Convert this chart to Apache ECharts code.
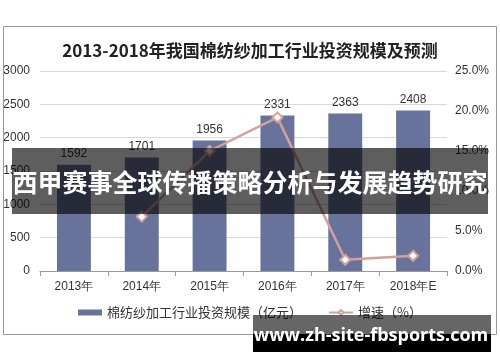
<!DOCTYPE html>
<html>
<head>
<meta charset="utf-8">
<script src="https://cdn.jsdelivr.net/npm/echarts@6/dist/echarts.min.js"></script>
<style>
html,body{margin:0;padding:0;background:#fff;}
#c{width:500px;height:362px;}
</style>
</head>
<body>
<div id="c"></div>
<script>
var categories = ['2013年','2014年','2015年','2016年','2017年','2018年E'];
var investment = [1592, 1701, 1956, 2331, 2363, 2408];
var growth = [null, 6.8, 15.0, 19.2, 1.4, 1.9];
var leftTicks = {min: 0, max: 3000, interval: 500};
var rightTicks = {min: 0, max: 25, interval: 5};
var titleText = '2013-2018年我国棉纺纱加工行业投资规模及预测';
var barName = '棉纺纱加工行业投资规模（亿元）';
var lineName = '增速（%）';
var bannerText = '西甲赛事全球传播策略分析与发展趋势研究';
var watermarkText = 'www.zh-site-fbsports.com';

var chart = echarts.init(document.getElementById('c'), null, {renderer: 'canvas'});
var fontCJK = '"Noto Sans CJK SC", "Liberation Sans", sans-serif';
chart.setOption({
  animation: false,
  backgroundColor: '#fff',
  title: {
    text: titleText,
    left: 'center',
    top: 37,
    textStyle: {fontFamily: fontCJK, fontSize: 17, fontWeight: 'bold', color: '#222'}
  },
  grid: {left: 40, right: 53, top: 71, bottom: 91},
  legend: {
    bottom: 38,
    left: 'center',
    itemGap: 26,
    itemWidth: 24,
    itemHeight: 6,
    textStyle: {fontFamily: fontCJK, fontSize: 13, color: '#333'},
    data: [
      {name: barName, icon: 'rect'},
      {name: lineName}
    ]
  },
  xAxis: {
    type: 'category',
    data: categories,
    axisLine: {lineStyle: {color: '#999'}},
    axisTick: {show: true, lineStyle: {color: '#999'}},
    axisLabel: {color: '#333', fontFamily: 'Liberation Sans, Arial, sans-serif', fontSize: 12, margin: 10}
  },
  yAxis: [
    {
      type: 'value',
      min: leftTicks.min, max: leftTicks.max, interval: leftTicks.interval,
      axisLine: {show: false},
      axisTick: {show: false},
      splitLine: {lineStyle: {color: '#d9d9d9'}},
      axisLabel: {color: '#333', fontFamily: 'Liberation Sans, Arial, sans-serif', fontSize: 12, margin: 10,
        formatter: function (v) { return String(v); }}
    },
    {
      type: 'value',
      min: rightTicks.min, max: rightTicks.max, interval: rightTicks.interval,
      axisLine: {show: false},
      axisTick: {show: false},
      splitLine: {show: false},
      axisLabel: {color: '#333', fontFamily: 'Liberation Sans, Arial, sans-serif', fontSize: 12, margin: 8,
        formatter: function (v) { return v.toFixed(1) + '%'; }}
    }
  ],
  series: [
    {
      name: barName,
      type: 'bar',
      data: investment,
      barWidth: '50%',
      itemStyle: {color: '#67739b'},
      label: {show: true, position: 'top', color: '#333', fontFamily: 'Liberation Sans, Arial, sans-serif', fontSize: 12, distance: 5}
    },
    {
      name: lineName,
      type: 'line',
      yAxisIndex: 1,
      data: growth,
      symbol: 'diamond',
      symbolSize: 10,
      lineStyle: {color: '#d4a09c', width: 2.5},
      itemStyle: {color: '#fff', borderColor: '#d4a09c', borderWidth: 2}
    }
  ],
  graphic: [
    {type: 'rect', shape: {x: 3.5, y: 26.5, width: 493, height: 308}, style: {fill: 'none', stroke: '#999', lineWidth: 1}, z: 0, silent: true},
    {type: 'rect', shape: {x: 12, y: 148, width: 476, height: 66}, style: {fill: 'rgba(0,0,0,0.63)'}, z: 100, silent: true},
    {type: 'text', x: 250, y: 182, style: {text: bannerText, fill: '#fff', font: 'bold 25px "Noto Sans CJK SC", sans-serif', textAlign: 'center', textVerticalAlign: 'middle'}, z: 101, silent: true},
    {type: 'rect', shape: {x: 253, y: 315, width: 238, height: 19}, style: {fill: 'rgba(0,0,0,0.6)'}, z: 100, silent: true},
    {type: 'rect', shape: {x: 253, y: 334, width: 238, height: 18}, style: {fill: '#000'}, z: 100, silent: true},
    {type: 'text', x: 371, y: 336, style: {text: watermarkText, fill: '#fff', font: 'bold 18px "Open Sans", "DejaVu Sans", sans-serif', textAlign: 'center', textVerticalAlign: 'middle'}, z: 101, silent: true}
  ]
});
</script>
</body>
</html>
